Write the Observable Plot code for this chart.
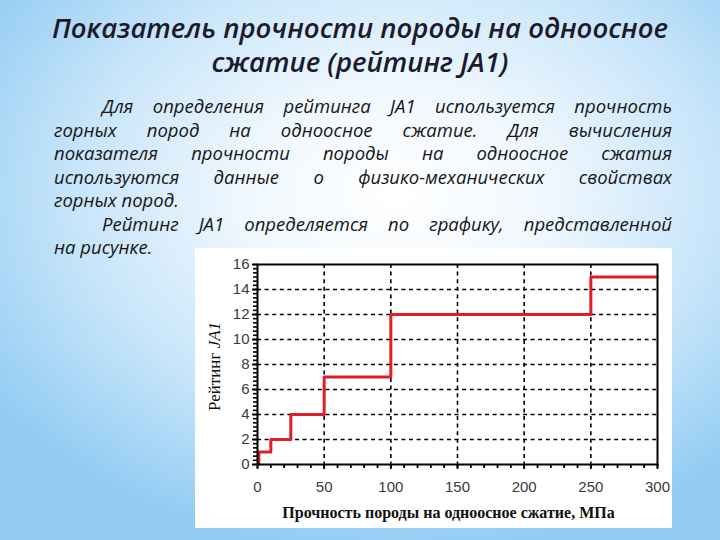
<!DOCTYPE html>
<html><head><meta charset="utf-8">
<script src="https://cdn.jsdelivr.net/npm/d3@7"></script>
<script src="https://cdn.jsdelivr.net/npm/@observablehq/plot@0.6"></script>
<style>
html,body{margin:0;padding:0;}
body{width:720px;height:540px;overflow:hidden;position:relative;
background: radial-gradient(ellipse 68% 66% at 55% 36%, #ffffff 0%, #f0f8fe 30%, #c8e5fa 65%, #93ccf3 100%);
font-family:"Open Sans",sans-serif;}
#title{position:absolute;left:0;top:11px;width:720px;text-align:center;font-style:italic;font-weight:600;font-size:27.5px;line-height:34px;color:#1b1b2b;}
#para{position:absolute;left:54px;top:94px;width:618px;font-style:italic;font-size:18.5px;line-height:23.5px;color:#161616;}
.j{text-align:justify;text-align-last:justify;}
.ind{padding-left:48px}
#chart{position:absolute;left:195px;top:248px;width:477px;height:280px;background:#fff;}
</style></head>
<body>
<div id="title">Показатель прочности породы на одноосное<br>сжатие (рейтинг JA1)</div>
<div id="para">
<div class="j ind">Для определения рейтинга JA1 используется прочность</div>
<div class="j">горных пород на одноосное сжатие. Для вычисления</div>
<div class="j">показателя прочности породы на одноосное сжатия</div>
<div class="j">используются данные о физико-механических свойствах</div>
<div>горных пород.</div>
<div class="j ind">Рейтинг JA1 определяется по графику, представленной</div>
<div>на рисунке.</div>
</div>
<div id="chart"></div>
<script>
// Data: rock strength (MPa) where rating step begins, and rating JA1
const strength = [0, 1, 10, 25, 50, 100, 250, 300];
const rating   = [0, 1, 2, 4, 7, 12, 15, 15];
const xTicks = [0, 50, 100, 150, 200, 250, 300];
const yTicks = [0, 2, 4, 6, 8, 10, 12, 14, 16];
const xGrid = [50, 100, 150, 200, 250];
const yGrid = [2, 4, 6, 8, 10, 12, 14];
const xLabel = "Прочность породы на одноосное сжатие, МПа";
const yLabelText = "Рейтинг ";
const yLabelItalic = "JA1";

const xMinor = d3.range(0, 301, 10);
const yMinor = d3.range(0, 16.001, 1/3);

const data = strength.map((s, i) => ({s, r: rating[i]}));
const tickFont = "'Liberation Sans', Arial, sans-serif";
const serif = "'Liberation Serif', 'Times New Roman', serif";

const plot = Plot.plot({
  width: 477, height: 280,
  marginLeft: 62, marginRight: 15, marginTop: 16, marginBottom: 64,
  style: {background: "#fff", overflow: "visible"},
  x: {domain: [0, 300]},
  y: {domain: [0, 16]},
  marks: [
    Plot.gridX(xGrid, {stroke: "#000", strokeOpacity: 1, strokeWidth: 1.6, strokeDasharray: "4,3.6"}),
    Plot.gridY(yGrid, {stroke: "#000", strokeOpacity: 1, strokeWidth: 1.6, strokeDasharray: "4,3.6"}),
    Plot.axisX(xMinor, {tickSize: 4, strokeWidth: 1.8, stroke: "#000", tickFormat: () => "", label: null}),
    Plot.axisX(xTicks, {tickSize: 5, tickPadding: 12, strokeWidth: 1.8, stroke: "#000", fill: "#3a3a3a", fontSize: 15, fontFamily: tickFont, label: null}),
    Plot.axisY(yMinor, {tickSize: 4, strokeWidth: 1.6, stroke: "#000", tickFormat: () => "", label: null}),
    Plot.axisY(yTicks, {tickSize: 5, tickPadding: 3, strokeWidth: 1.8, stroke: "#000", fill: "#3a3a3a", fontSize: 15, fontFamily: tickFont, label: null}),
    Plot.line(data, {x: "s", y: "r", curve: "step-after", stroke: "#de1f26", strokeWidth: 3}),
    Plot.frame({stroke: "#000", strokeWidth: 2}),
    Plot.text([xLabel], {frameAnchor: "bottom", dx: -9, dy: 48, lineAnchor: "middle", textAnchor: "middle",
      fontFamily: serif, fontWeight: "bold", fontSize: 16, fill: "#111"}),
    Plot.text([yLabelText + yLabelItalic], {frameAnchor: "left", dx: -43, dy: 2, rotate: -90, lineAnchor: "middle", textAnchor: "middle",
      fontFamily: serif, fontSize: 17, fill: "#111", className: "ylab"})
  ]
});
const yl = plot.querySelector(".ylab text");
if (yl) {
  yl.textContent = "";
  const t1 = document.createElementNS("http://www.w3.org/2000/svg", "tspan");
  t1.textContent = yLabelText;
  const t2 = document.createElementNS("http://www.w3.org/2000/svg", "tspan");
  t2.textContent = yLabelItalic;
  t2.setAttribute("font-style", "italic");
  yl.appendChild(t1); yl.appendChild(t2);
}
document.getElementById("chart").appendChild(plot);
</script>
</body></html>
